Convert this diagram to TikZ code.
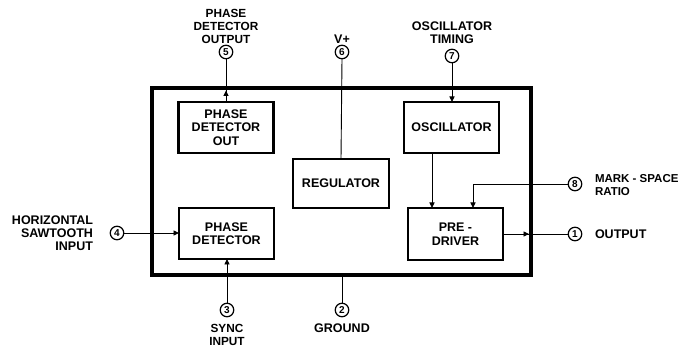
\documentclass[tikz,border=0pt]{standalone}
\usepackage{fontspec}
\setmainfont{Liberation Sans}
\usetikzlibrary{arrows.meta,calc}
\begin{document}
\begin{tikzpicture}[x=1pt,y=-1pt,
  every node/.style={outer sep=0pt},
  lab/.style={font=\fontsize{12.5}{13}\selectfont\bfseries, align=center, inner sep=0pt},
  smalllab/.style={font=\fontsize{11.8}{13}\selectfont\bfseries, align=center, inner sep=0pt},
  blk/.style={draw, line width=2.8pt, minimum width=95pt, minimum height=51pt, inner sep=0pt,
              font=\fontsize{12.5}{13.5}\selectfont\bfseries, align=center},
  pinc/.style={draw, circle, line width=1.2pt, minimum size=13.5pt, inner sep=0pt,
              font=\fontsize{10}{10}\selectfont\bfseries},
  wire/.style={line width=0.9pt},
  arr/.style={wire, -{Triangle[length=5.5pt,width=5pt]}}]
\useasboundingbox (0,0) rectangle (683,347);

% outer package box
\node[draw, line width=3.6pt, minimum width=379pt, minimum height=187pt] (outer) at (341.5,181.5) {};

% inner blocks
\node[blk] (pdo) at (226,127.5) {PHASE\\DETECTOR\\OUT};
\node[blk] (pd)  at (226.5,233.5) {PHASE\\DETECTOR};
\node[blk, minimum width=96pt, minimum height=49pt] (reg) at (341,183.5) {REGULATOR};
\node[blk] (osc) at (451.5,127.5) {OSCILLATOR};
\node[blk, minimum height=52pt] (pre) at (455.5,234) {PRE -\\DRIVER};

% pins
\node[pinc] (c5) at (226,52) {5};
\node[pinc] (c6) at (342,52) {6};
\node[pinc] (c7) at (452,56) {7};
\node[pinc] (c4) at (117,233) {4};
\node[pinc] (c3) at (227,310) {3};
\node[pinc] (c2) at (342,310) {2};
\node[pinc] (c1) at (575,234) {1};
\node[pinc] (c8) at (575,184) {8};

% labels
\node[smalllab] (l5) at (226,26) {PHASE\\DETECTOR\\OUTPUT};
\node[lab] (l6) at (342,39) {V+};
\node[lab] (l7) at (452,32.5) {OSCILLATOR\\TIMING};
\node[lab, anchor=east, align=right] (l4) at (93,233) {HORIZONTAL\\SAWTOOTH\\INPUT};
\node[smalllab] (l3) at (227,335) {SYNC\\INPUT};
\node[lab] (l2) at (342,328) {GROUND};
\node[lab, anchor=west] (l1) at (595,234) {OUTPUT};
\node[lab, font=\fontsize{11.5}{13.5}\selectfont\bfseries, anchor=west, align=left] (l8) at (595,185) {MARK - SPACE\\RATIO};

% helper coordinates
\coordinate (t5) at (226,90.5);
\coordinate (t1) at (529,234);
\coordinate (oa) at (432,0);
\coordinate (m8) at (473,184);

% connectors
\draw[wire] (pdo.north) -- (c5.south);
\draw[arr] (pdo.north) -- (t5);
\draw[wire] (reg.north) -- (c6.south);
\draw[arr] (c7.south) -- (osc.north -| c7);
\draw[arr] (c4.east) -- (pd.west |- c4);
\draw[arr] (c3.north) -- (pd.south -| c3);
\draw[wire] (c2.north) -- (c2 |- outer.south);
\draw[wire] (pre.east) -- (c1.west);
\draw[arr] (pre.east) -- (t1);
\draw[arr] (osc.south -| oa) -- (pre.north -| oa);
\draw[arr] (c8.west) -- (m8) -- (m8 |- pre.north);
\end{tikzpicture}
\end{document}
